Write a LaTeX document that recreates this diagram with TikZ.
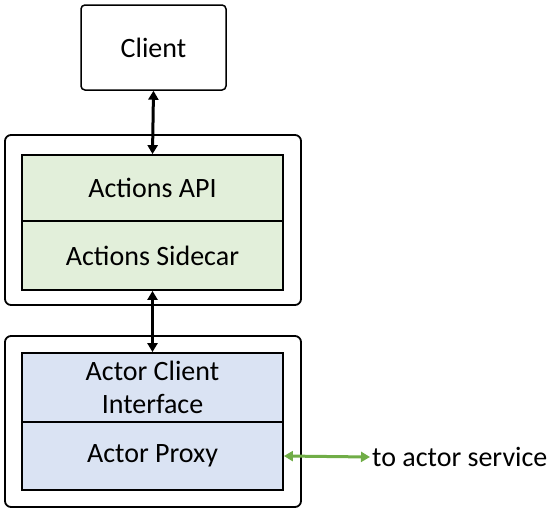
\documentclass[tikz,border=0pt]{standalone}
\usepackage{fontspec}
\setmainfont{Carlito}
\usetikzlibrary{arrows.meta}

\definecolor{apigreen}{HTML}{E2EFDA}
\definecolor{proxyblue}{HTML}{DAE3F3}
\definecolor{linkgreen}{HTML}{70AD47}

\tikzset{
  podbox/.style={draw, line width=1.8pt, rounded corners=6pt, minimum width=296pt, inner sep=0pt},
  clientbox/.style={draw, line width=1.5pt, rounded corners=4pt, minimum width=145pt, minimum height=85pt, inner sep=0pt},
  layerbox/.style={draw, line width=1.8pt, minimum width=261pt, inner sep=0pt, align=center},
  dblarrow/.style={line width=3pt, {Triangle[length=9pt,width=10pt]}-{Triangle[length=9pt,width=10pt]}},
  svcarrow/.style={line width=3pt, linkgreen, {Triangle[length=9pt,width=10pt]}-{Triangle[length=9pt,width=10pt]}}
}

\begin{document}
\begin{tikzpicture}[x=1pt,y=-1pt,font=\fontsize{28}{33}\selectfont]
      \useasboundingbox (0,0) rectangle (552,514);
      %cliente
      \node[clientbox] (client) at (153.5,47.5) {Client};
      %pod actions
      \node[podbox, minimum height=170pt] (pod1) at (153,220) {};
      \node[layerbox, fill=apigreen, minimum height=66pt] (api) at (152.5,188) {Actions API};
      \node[layerbox, fill=apigreen, minimum height=69pt] (sidecar) at (152.5,255.5) {Actions Sidecar};
      %pod actor
      \node[podbox, minimum height=171pt] (pod2) at (153,421.5) {};
      \node[layerbox, fill=proxyblue, minimum height=69pt] (iface) at (152.5,387.5) {Actor Client\\Interface};
      \node[layerbox, fill=proxyblue, minimum height=68pt] (proxy) at (152.5,456) {Actor Proxy};
      \node[anchor=west, inner sep=0pt] (svc) at (372,457) {to actor service};
      %flechas
      \draw[dblarrow] (client.south) -- (api.north);
      \draw[dblarrow] (sidecar.south) -- (iface.north);
      \draw[svcarrow] (proxy.east) -- ([xshift=-2pt]svc.west);
\end{tikzpicture}
\end{document}
